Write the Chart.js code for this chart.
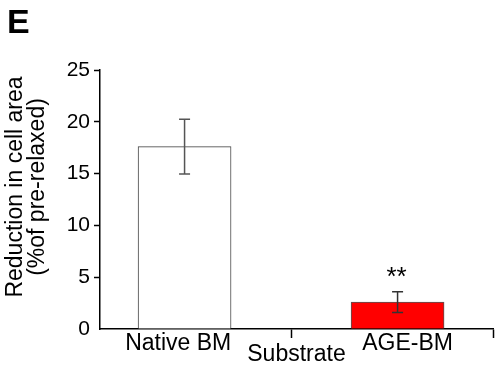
<!DOCTYPE html>
<html>
<head>
<meta charset="utf-8">
<script src="https://cdn.jsdelivr.net/npm/chart.js@4/dist/chart.umd.min.js"></script>
<style>
  html, body { margin: 0; padding: 0; background: #ffffff; }
  #wrap { width: 500px; height: 374px; }
</style>
</head>
<body>
<div id="wrap"><canvas id="c" width="500" height="374"></canvas></div>
<script>
// ---- data ----
const categories = ['Native BM', 'AGE-BM'];
const meanReduction = [17.6, 2.6];
const errorSEM = [2.65, 1.0];
const significance = ['', '**'];
const yTicks = [0, 5, 10, 15, 20, 25];
const panelLabel = 'E';
const yTitle = ['Reduction in cell area', '(%of pre-relaxed)'];
const xTitle = 'Substrate';

const FONT = "'Liberation Sans', Arial, Helvetica, sans-serif";

// bars sit at category index positions 0 and 1 on a linear index axis
const barPoints = categories.map((c, i) => ({ x: i, y: meanReduction[i] }));

const errorBarPlugin = {
  id: 'errorBars',
  afterDatasetsDraw(chart) {
    const ctx = chart.ctx;
    const yScale = chart.scales.y;
    const meta = chart.getDatasetMeta(0);
    ctx.save();
    meta.data.forEach((bar, i) => {
      const x = bar.x;
      const v = meanReduction[i];
      const e = errorSEM[i];
      const yTop = yScale.getPixelForValue(v + e);
      const yBot = yScale.getPixelForValue(v - e);
      ctx.strokeStyle = i === 0 ? '#555555' : '#333333';
      ctx.lineWidth = 1.5;
      ctx.beginPath();
      ctx.moveTo(x, yTop); ctx.lineTo(x, yBot);
      ctx.moveTo(x - 5.5, yTop); ctx.lineTo(x + 5.5, yTop);
      ctx.moveTo(x - 5.5, yBot); ctx.lineTo(x + 5.5, yBot);
      ctx.stroke();
      if (significance[i]) {
        ctx.fillStyle = '#000000';
        ctx.font = '26px ' + FONT;
        ctx.textAlign = 'center';
        ctx.textBaseline = 'alphabetic';
        ctx.fillText(significance[i], x - 1, yTop - 7);
      }
    });
    ctx.restore();
  }
};

// label anchors: each category label sits near its bar, nudged as in the figure
const labelNudge = [-0.03, 0.047];

new Chart(document.getElementById('c'), {
  type: 'bar',
  data: {
    datasets: [{
      data: barPoints,
      backgroundColor: ['#ffffff', '#ff0000'],
      borderColor: ['#444444', '#555555'],
      borderWidth: 1,
      barThickness: 93
    }]
  },
  options: {
    responsive: false,
    animation: false,
    layout: { padding: { left: 7, right: 7, top: 0, bottom: 0 } },
    plugins: {
      legend: { display: false },
      tooltip: { enabled: false },
      subtitle: {
        display: true,
        text: panelLabel,
        position: 'top',
        align: 'start',
        color: '#000000',
        font: { family: FONT, size: 34, weight: 'bold', lineHeight: 1.0 },
        padding: { top: 7, bottom: 29 }
      },
      title: {
        display: true,
        text: yTitle,
        position: 'left',
        align: 'center',
        color: '#000000',
        font: { family: FONT, size: 23, weight: 'normal', lineHeight: '22px' },
        padding: { top: -2, bottom: 6 }
      }
    },
    scales: {
      x: {
        type: 'linear',
        offset: false,
        min: -0.397,
        max: 1.448,
        grid: {
          offset: false,
          drawOnChartArea: false,
          drawTicks: true,
          tickLength: 9,
          tickWidth: 1.5,
          tickColor: (c) => (c.index === 1 || c.index === 3) ? '#000000' : 'rgba(0,0,0,0)'
        },
        border: { display: true, color: '#000000', width: 1.5 },
        afterBuildTicks(scale) {
          scale.ticks = [
            { value: 0 + labelNudge[0] },
            { value: 0.5 },
            { value: 1 + labelNudge[1] },
            { value: scale.max }
          ];
        },
        ticks: {
          color: '#000000',
          padding: -6,
          maxRotation: 0,
          autoSkip: false,
          font: { family: FONT, size: 23, lineHeight: 1.0 },
          callback: (v, i) => i === 0 ? categories[0] : (i === 2 ? categories[1] : '')
        },
        title: {
          display: true,
          text: xTitle,
          color: '#000000',
          font: { family: FONT, size: 23, lineHeight: 1.0 },
          padding: { top: 0, bottom: 7.5 }
        },
        afterFit(scale) { scale.height = 45; }
      },
      y: {
        min: 0,
        max: 25,
        grid: {
          drawOnChartArea: false,
          drawTicks: true,
          tickLength: 6,
          tickWidth: 1.5,
          tickColor: (c) => (c.tick && c.tick.value === 0) ? 'rgba(0,0,0,0)' : '#000000'
        },
        border: { display: true, color: '#000000', width: 1.5 },
        afterBuildTicks(scale) { scale.ticks = yTicks.map(v => ({ value: v })); },
        ticks: {
          color: '#000000',
          padding: 4,
          font: { family: FONT, size: 21, lineHeight: 1.0 }
        },
        afterFit(scale) { scale.width = 45; }
      }
    }
  },
  plugins: [errorBarPlugin]
});
</script>
</body>
</html>
